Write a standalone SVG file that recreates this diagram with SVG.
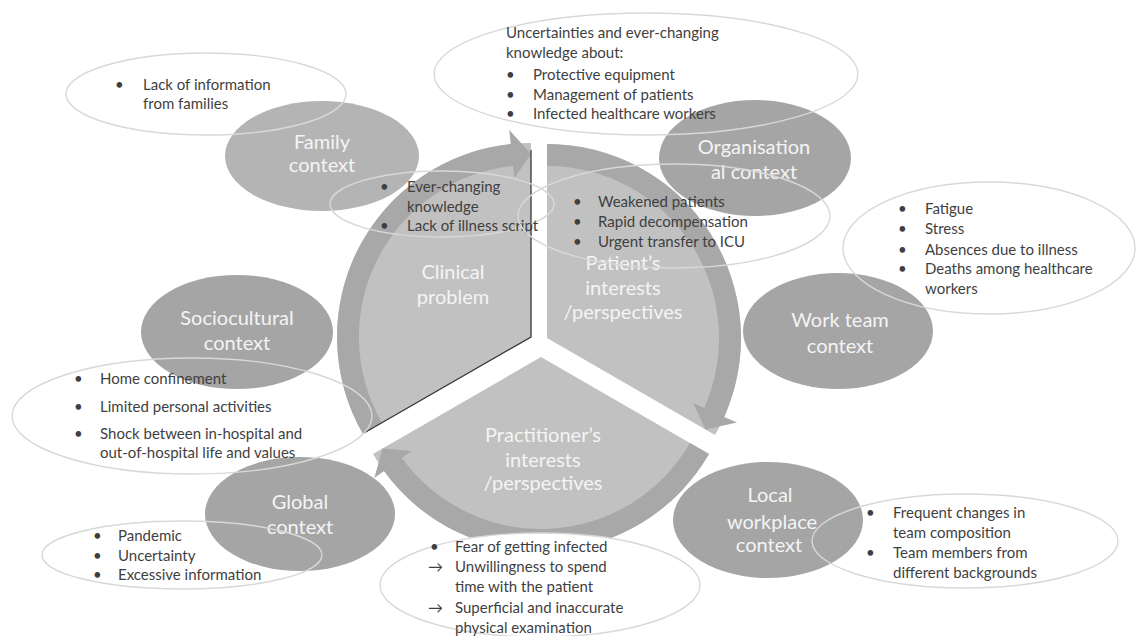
<svg xmlns="http://www.w3.org/2000/svg" width="1138" height="636" viewBox="0 0 1138 636">
  <defs>
    <style>
      .wedge { fill: #c1c1c1; }
      .band { fill: #a8a8a8; }
      .ctx { fill: #a5a5a5; }
      .ctx-light { fill: #b4b4b4; }
      .bubble { fill: none; stroke: #d8d8d8; stroke-width: 1.4; }
      .bubble-solid { fill: #ffffff; stroke: #d8d8d8; stroke-width: 1.4; }
      .lbl { font-family: Lato, "Liberation Sans", sans-serif; font-size: 20px; fill: #f4f4f4; text-anchor: middle; }
      .txt { font-family: Lato, "Liberation Sans", sans-serif; font-size: 15px; fill: #3f3f3f; }
      .edge { fill: none; stroke: #3a3a3a; stroke-width: 1.3; }
    </style>
  </defs>
  <rect width="1138" height="636" fill="#ffffff"/>

  <!-- cycle segments (exploded pie wedges) -->
  <g id="seg-clinical">
    <path class="wedge" d="M531 337 L363 434 A194 194 0 0 1 531 143 Z"/>
  </g>
  <g id="seg-patient">
    <path class="wedge" d="M547 338 L547 144 A194 194 0 0 1 715 435 Z"/>
  </g>
  <g id="seg-practitioner">
    <path class="wedge" d="M541 357 L709 454 A194 194 0 0 1 373 454 Z"/>
  </g>

  <!-- circular arrows running clockwise around the cycle -->
  <g id="connectors">
    <path class="band" d="M363 434 A194 194 0 0 1 510.7 144.1 L509.3 130.1 L531 154 L514.3 177.9 L513 165.9 A172 172 0 0 0 382 423 Z"/>
    <path class="band" d="M547 144 A194 194 0 0 1 724.2 416.9 L737 422.6 L705.5 429.5 L693.2 403.1 L704.1 408 A172 172 0 0 0 547 166 Z"/>
    <path class="band" d="M709 454 A194 194 0 0 1 384 471 L374.3 478.1 L382.5 448.5 L411.6 451 L401.9 458.1 A172 172 0 0 0 690 443 Z"/>
    <polyline class="edge" points="531,150 531,337 364,433"/>
  </g>

  <g id="seg-labels">
    <text class="lbl" x="453" y="279">Clinical</text>
    <text class="lbl" x="453" y="304">problem</text>
    <text class="lbl" x="623" y="270">Patient’s</text>
    <text class="lbl" x="623" y="295">interests</text>
    <text class="lbl" x="623" y="319">/perspectives</text>
    <text class="lbl" x="543" y="442">Practitioner’s</text>
    <text class="lbl" x="543" y="467">interests</text>
    <text class="lbl" x="543" y="490">/perspectives</text>
  </g>

  <!-- context ellipses -->
  <g id="ctx-family">
    <ellipse class="ctx-light" cx="322" cy="156" rx="97" ry="55"/>
    <text class="lbl" x="322" y="149">Family</text>
    <text class="lbl" x="322" y="172">context</text>
  </g>
  <g id="ctx-organisational">
    <ellipse class="ctx" cx="755" cy="158" rx="96" ry="58"/>
    <text class="lbl" x="754" y="154">Organisation</text>
    <text class="lbl" x="754" y="179">al context</text>
  </g>
  <g id="ctx-sociocultural">
    <ellipse class="ctx" cx="237" cy="332" rx="96" ry="57"/>
    <text class="lbl" x="237" y="325">Sociocultural</text>
    <text class="lbl" x="237" y="350">context</text>
  </g>
  <g id="ctx-workteam">
    <ellipse class="ctx" cx="838" cy="331" rx="95" ry="58"/>
    <text class="lbl" x="840" y="327">Work team</text>
    <text class="lbl" x="840" y="353">context</text>
  </g>
  <g id="ctx-global">
    <ellipse class="ctx" cx="300" cy="514" rx="95" ry="57"/>
    <text class="lbl" x="300" y="509">Global</text>
    <text class="lbl" x="300" y="534">context</text>
  </g>
  <g id="ctx-local">
    <ellipse class="ctx" cx="768" cy="520" rx="95" ry="58"/>
    <text class="lbl" x="770" y="502">Local</text>
    <text class="lbl" x="772" y="529">workplace</text>
    <text class="lbl" x="769" y="552">context</text>
  </g>

  <!-- note bubbles -->
  <g id="note-family">
    <ellipse class="bubble" cx="206" cy="94" rx="140" ry="41"/>
    <text class="txt" x="115" y="90">•</text>
    <text class="txt" x="143" y="90">Lack of information</text>
    <text class="txt" x="143" y="109">from families</text>
  </g>
  <g id="note-organisational">
    <ellipse class="bubble" cx="646" cy="74" rx="212" ry="61"/>
    <text class="txt" x="506" y="38">Uncertainties and ever-changing</text>
    <text class="txt" x="506" y="58">knowledge about:</text>
    <text class="txt" x="506" y="80">•</text>
    <text class="txt" x="533" y="80">Protective equipment</text>
    <text class="txt" x="506" y="100">•</text>
    <text class="txt" x="533" y="100">Management of patients</text>
    <text class="txt" x="506" y="119">•</text>
    <text class="txt" x="533" y="119">Infected healthcare workers</text>
  </g>
  <g id="note-clinical">
    <ellipse class="bubble" cx="442" cy="204" rx="112" ry="33"/>
    <text class="txt" x="380" y="192">•</text>
    <text class="txt" x="407" y="192">Ever-changing</text>
    <text class="txt" x="407" y="212">knowledge</text>
    <text class="txt" x="380" y="231">•</text>
    <text class="txt" x="407" y="231">Lack of illness script</text>
  </g>
  <g id="note-patient">
    <ellipse class="bubble" cx="674" cy="216" rx="156" ry="52"/>
    <text class="txt" x="573" y="207">•</text>
    <text class="txt" x="598" y="207">Weakened patients</text>
    <text class="txt" x="573" y="227">•</text>
    <text class="txt" x="598" y="227">Rapid decompensation</text>
    <text class="txt" x="573" y="247">•</text>
    <text class="txt" x="598" y="247">Urgent transfer to ICU</text>
  </g>
  <g id="note-workteam">
    <ellipse class="bubble" cx="989" cy="248" rx="146" ry="66"/>
    <text class="txt" x="898" y="214">•</text>
    <text class="txt" x="925" y="214">Fatigue</text>
    <text class="txt" x="898" y="234">•</text>
    <text class="txt" x="925" y="234">Stress</text>
    <text class="txt" x="898" y="255">•</text>
    <text class="txt" x="925" y="255">Absences due to illness</text>
    <text class="txt" x="898" y="274">•</text>
    <text class="txt" x="925" y="274">Deaths among healthcare</text>
    <text class="txt" x="925" y="294">workers</text>
  </g>
  <g id="note-sociocultural">
    <ellipse class="bubble" cx="192" cy="416" rx="180" ry="58"/>
    <text class="txt" x="74" y="384">•</text>
    <text class="txt" x="100" y="384">Home confinement</text>
    <text class="txt" x="74" y="412">•</text>
    <text class="txt" x="100" y="412">Limited personal activities</text>
    <text class="txt" x="74" y="439">•</text>
    <text class="txt" x="100" y="439">Shock between in-hospital and</text>
    <text class="txt" x="100" y="458">out-of-hospital life and values</text>
  </g>
  <g id="note-global">
    <ellipse class="bubble" cx="182" cy="555" rx="140" ry="34"/>
    <text class="txt" x="93" y="541">•</text>
    <text class="txt" x="118" y="541">Pandemic</text>
    <text class="txt" x="93" y="561">•</text>
    <text class="txt" x="118" y="561">Uncertainty</text>
    <text class="txt" x="93" y="580">•</text>
    <text class="txt" x="118" y="580">Excessive information</text>
  </g>
  <g id="note-practitioner">
    <ellipse class="bubble-solid" cx="540" cy="585" rx="160" ry="52"/>
    <text class="txt" x="430" y="552">•</text>
    <text class="txt" x="455" y="552">Fear of getting infected</text>
    <text class="txt" x="428" y="572">→</text>
    <text class="txt" x="455" y="572">Unwillingness to spend</text>
    <text class="txt" x="455" y="592">time with the patient</text>
    <text class="txt" x="428" y="613">→</text>
    <text class="txt" x="455" y="613">Superficial and inaccurate</text>
    <text class="txt" x="455" y="633">physical examination</text>
  </g>
  <g id="note-local">
    <ellipse class="bubble" cx="965" cy="541" rx="153" ry="47"/>
    <text class="txt" x="866" y="518">•</text>
    <text class="txt" x="893" y="518">Frequent changes in</text>
    <text class="txt" x="893" y="538">team composition</text>
    <text class="txt" x="866" y="558">•</text>
    <text class="txt" x="893" y="558">Team members from</text>
    <text class="txt" x="893" y="578">different backgrounds</text>
  </g>
</svg>
